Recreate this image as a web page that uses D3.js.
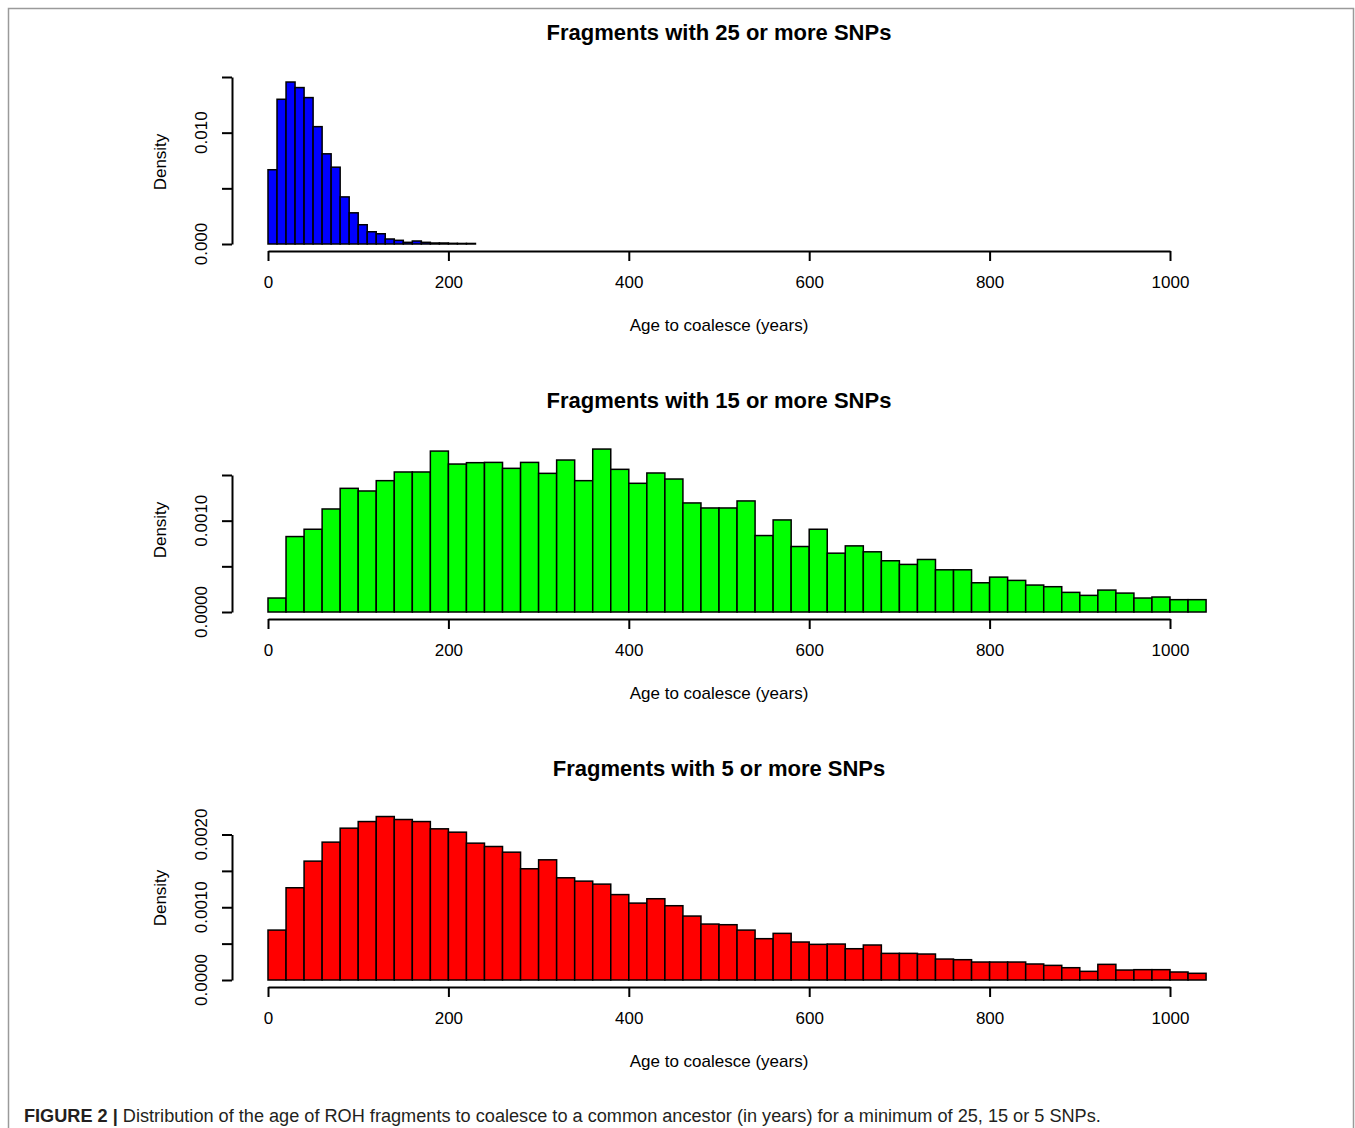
<!DOCTYPE html>
<html>
<head>
<meta charset="utf-8">
<script src="https://cdn.jsdelivr.net/npm/d3@7"></script>
<style>
  body { margin: 0; background: #fff; }
  svg { display: block; font-family: "Liberation Sans", Arial, sans-serif; }
</style>
</head>
<body>
<script>
// histogram densities (bin starts at 0)
const bins25 = [0.00667, 0.0130, 0.01455, 0.01405, 0.01315, 0.01054, 0.0081, 0.0069,
  0.00423, 0.0028, 0.00173, 0.0011, 0.00092, 0.00045, 0.00033, 0.00015, 0.00027,
  0.00015, 0.00009, 0.00009, 0.00006, 0.00005, 0.00005];
const bins15 = [0.000153, 0.000826, 0.000906, 0.001128, 0.001354, 0.001325, 0.001438,
  0.001533, 0.001533, 0.001762, 0.00162, 0.001635, 0.001638, 0.001573, 0.001638,
  0.001518, 0.001664, 0.001438, 0.001784, 0.001562, 0.001409, 0.001522, 0.001456,
  0.001194, 0.001139, 0.001139, 0.001216, 0.000837, 0.001008, 0.000717, 0.000906,
  0.000644, 0.000724, 0.000659, 0.000561, 0.000521, 0.000575, 0.000462, 0.000462,
  0.00032, 0.000382, 0.000346, 0.000295, 0.000277, 0.000215, 0.000182, 0.00024,
  0.000207, 0.000153, 0.000164, 0.000135, 0.000135];
const bins5 = [0.000686, 0.001268, 0.001634, 0.001895, 0.002087, 0.002178, 0.002247,
  0.002206, 0.002178, 0.002078, 0.002032, 0.001881, 0.001835, 0.001757, 0.001529,
  0.001652, 0.001405, 0.001359, 0.001318, 0.001174, 0.001057, 0.001117, 0.001021,
  0.000879, 0.000769, 0.00076, 0.000686, 0.000568, 0.000641, 0.000522, 0.00049,
  0.000494, 0.00043, 0.000481, 0.000366, 0.000366, 0.000357, 0.000288, 0.000279,
  0.000247, 0.000247, 0.000247, 0.00022, 0.000201, 0.000169, 0.000119, 0.000215,
  0.000137, 0.000142, 0.000142, 0.00011, 0.000092];

const xTicks = [0, 200, 400, 600, 800, 1000];

const panels = [
  { title: "Fragments with 25 or more SNPs", values: bins25, binWidth: 10, fill: "#0000ff",
    yMax: 0.015, yTicks: [0, 0.005, 0.010, 0.015], yLabels: [0, 0.010], fmt: ".3f",
    top: 0, yMaxPx: 77 },
  { title: "Fragments with 15 or more SNPs", values: bins15, binWidth: 20, fill: "#00ff00",
    yMax: 0.0015, yTicks: [0, 0.0005, 0.0010, 0.0015], yLabels: [0, 0.0010], fmt: ".4f",
    top: 368, yMaxPx: 475 },
  { title: "Fragments with 5 or more SNPs", values: bins5, binWidth: 20, fill: "#ff0000",
    yMax: 0.002, yTicks: [0, 0.0005, 0.0010, 0.0015, 0.0020], yLabels: [0, 0.0010, 0.0020], fmt: ".4f",
    top: 736, yMaxPx: 834.5 }
];

const width = 1355, height = 1128;

const svg = d3.select("body").append("svg")
  .attr("width", width)
  .attr("height", height);

// figure frame
svg.append("path")
  .attr("d", `M8.5,${height} V8.5 H1353.5 V${height}`)
  .attr("fill", "none")
  .attr("stroke", "#9a9a9a")
  .attr("stroke-width", 1.5);

const x = d3.scaleLinear().domain([0, 1000]).range([268, 1170]);

panels.forEach(p => {
  const base = 244 + p.top;
  const y = d3.scaleLinear().domain([0, p.yMax]).range([base, p.yMaxPx]);
  const g = svg.append("g");

  g.append("text")
    .attr("x", 719).attr("y", p.top + 40)
    .attr("text-anchor", "middle")
    .attr("font-size", 22).attr("font-weight", "bold")
    .text(p.title);

  g.selectAll("rect.bar")
    .data(p.values)
    .join("rect")
    .attr("class", "bar")
    .attr("x", (d, i) => x(i * p.binWidth))
    .attr("width", x(p.binWidth) - x(0))
    .attr("y", d => y(d))
    .attr("height", d => base - y(d))
    .attr("fill", p.fill)
    .attr("stroke", "#000")
    .attr("stroke-width", 1.5);

  // x axis
  const xa = g.append("g").attr("transform", `translate(0,${base + 7})`);
  xa.call(d3.axisBottom(x).tickValues(xTicks).tickSize(10).tickSizeOuter(0).tickFormat(d3.format("d")));
  xa.select(".domain").attr("stroke-width", 2);
  xa.selectAll(".tick line").attr("stroke-width", 2);
  xa.selectAll("text").attr("font-size", 17).attr("font-family", null).attr("dy", null).attr("y", 37).attr("fill", "#000");

  g.append("text")
    .attr("x", 719).attr("y", base + 87)
    .attr("text-anchor", "middle")
    .attr("font-size", 17)
    .text("Age to coalesce (years)");

  // y axis
  const ya = g.append("g").attr("transform", "translate(232,0)");
  ya.call(d3.axisLeft(y).tickValues(p.yTicks).tickSize(10).tickSizeOuter(0).tickFormat(""));
  ya.select(".domain").attr("stroke-width", 2);
  ya.selectAll(".tick line").attr("stroke-width", 2);

  g.selectAll("text.ylab")
    .data(p.yLabels)
    .join("text")
    .attr("class", "ylab")
    .attr("transform", d => `translate(207,${y(d)}) rotate(-90)`)
    .attr("text-anchor", "middle")
    .attr("font-size", 17)
    .text(d => d3.format(p.fmt)(d));

  g.append("text")
    .attr("transform", `translate(166,${base - 82}) rotate(-90)`)
    .attr("text-anchor", "middle")
    .attr("font-size", 17)
    .text("Density");
});

// caption
const cap = svg.append("text")
  .attr("x", 24).attr("y", 1122)
  .attr("font-size", 18.15)
  .attr("fill", "#231f20");
cap.append("tspan").attr("font-weight", "bold").text("FIGURE 2 | ");
cap.append("tspan").text("Distribution of the age of ROH fragments to coalesce to a common ancestor (in years) for a minimum of 25, 15 or 5 SNPs.");
</script>
</body>
</html>
